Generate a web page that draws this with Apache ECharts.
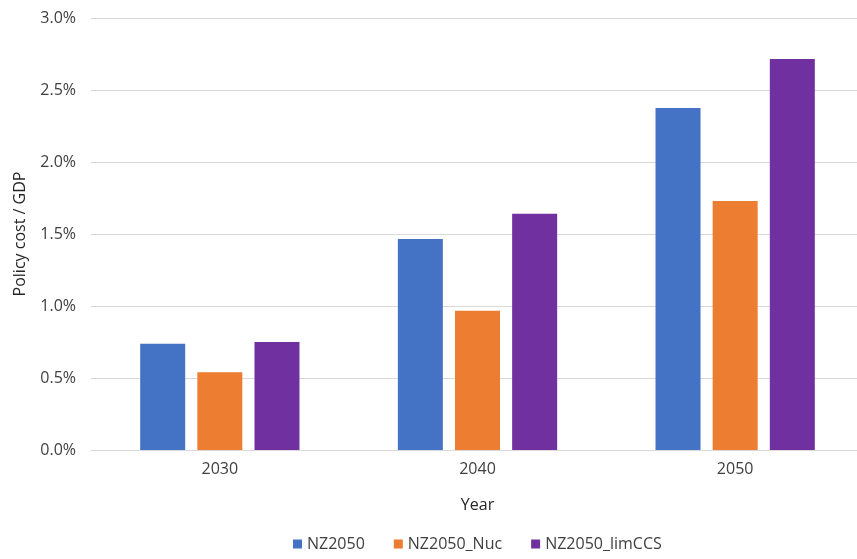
<!DOCTYPE html>
<html>
<head>
<meta charset="utf-8">
<script src="https://cdn.jsdelivr.net/npm/echarts@6/dist/echarts.min.js"></script>
<style>
  html, body { margin: 0; padding: 0; background: #fff; }
  #chart { width: 857px; height: 559px; }
</style>
</head>
<body>
<div id="chart"></div>
<script>
const years = ["2030", "2040", "2050"];
const nz2050 = [0.737, 1.465, 2.375];
const nz2050Nuc = [0.54, 0.967, 1.73];
const nz2050LimCCS = [0.75, 1.64, 2.715];
const seriesNames = ["NZ2050", "NZ2050_Nuc", "NZ2050_limCCS"];
const colors = ["#4472C4", "#ED7D31", "#7030A0"];

const font = "Open Sans";
const chart = echarts.init(document.getElementById("chart"));

const option = {
  animation: false,
  color: colors,
  grid: {
    left: 91,
    top: 18,
    width: 773,
    height: 432,
    outerBoundsMode: "none"
  },
  legend: {
    data: seriesNames,
    left: 288,
    top: 531,
    icon: "rect",
    itemWidth: 9,
    itemHeight: 9,
    itemGap: 29,
    textStyle: { fontFamily: font, fontSize: 16, color: "#404040" }
  },
  xAxis: {
    type: "category",
    data: years,
    name: "Year",
    nameLocation: "middle",
    nameGap: 47,
    nameTextStyle: { fontFamily: font, fontSize: 16, color: "#262626" },
    axisTick: { show: false },
    axisLine: { lineStyle: { color: "#d9d9d9", width: 1 } },
    axisLabel: { fontFamily: font, fontSize: 16, color: "#404040", margin: 11 }
  },
  yAxis: {
    type: "value",
    min: 0,
    max: 3,
    interval: 0.5,
    name: "Policy cost / GDP",
    nameLocation: "middle",
    nameGap: 63,
    nameTextStyle: { fontFamily: font, fontSize: 16, color: "#262626" },
    axisLine: { show: false },
    axisTick: { show: false },
    splitLine: { lineStyle: { color: "#d9d9d9", width: 1 } },
    axisLabel: {
      fontFamily: font,
      fontSize: 16,
      color: "#404040",
      margin: 15,
      formatter: v => v.toFixed(1) + "%"
    }
  },
  series: [
    { name: seriesNames[0], type: "bar", data: nz2050, barWidth: 45, barGap: "27%" },
    { name: seriesNames[1], type: "bar", data: nz2050Nuc, barWidth: 45, barGap: "27%" },
    { name: seriesNames[2], type: "bar", data: nz2050LimCCS, barWidth: 45, barGap: "27%" }
  ]
};

chart.setOption(option);
window.addEventListener("resize", () => chart.resize());
</script>
</body>
</html>
